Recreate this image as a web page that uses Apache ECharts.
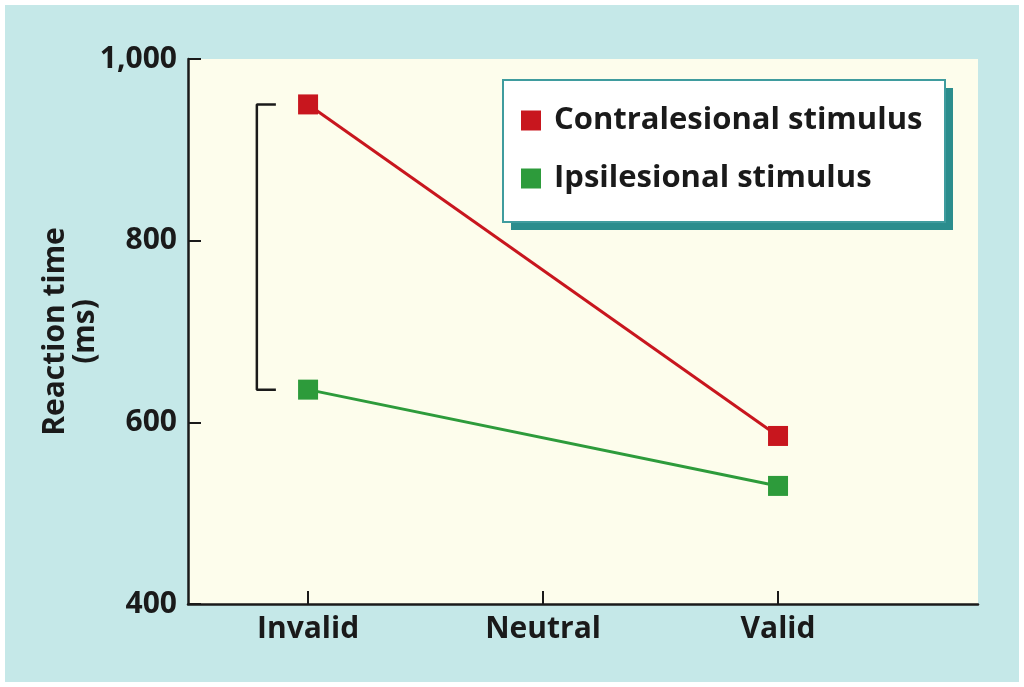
<!DOCTYPE html>
<html>
<head>
<meta charset="utf-8">
<script src="https://cdn.jsdelivr.net/npm/echarts@6/dist/echarts.min.js"></script>
<style>
  html, body { margin: 0; padding: 0; background: #ffffff; }
  #wrap { width: 1024px; height: 687px; box-sizing: border-box; padding: 5px; background: #ffffff; }
  #chart { width: 1014px; height: 677px; }
</style>
</head>
<body>
<div id="wrap"><div id="chart"></div></div>
<script>
const categories = ['Invalid', 'Neutral', 'Valid'];
const contraName = 'Contralesional stimulus';
const ipsiName = 'Ipsilesional stimulus';
const contraValues = [950, null, 585];
const ipsiValues = [636, null, 530];
const yTicks = [400, 600, 800, 1000];

const FONT = '"Open Sans", "Noto Sans", sans-serif';
const toPairs = vals => vals.map((v, i) => [i, v]).filter(p => p[1] != null);

// bracket between the two Invalid values
const bx = -0.218, bArm = -0.137;
const bracket = [[bArm, contraValues[0]], [bx, contraValues[0]], [bx, ipsiValues[0]], [bArm, ipsiValues[0]]];

const chart = echarts.init(document.getElementById('chart'));
chart.setOption({
  backgroundColor: '#c5e8e8',
  animation: false,
  grid: {
    left: 183, top: 54, right: 41, bottom: 78,
    show: true, backgroundColor: '#fdfdec', borderWidth: 0
  },
  graphic: [
    { type: 'rect', z: 3, shape: { x: 506, y: 83, width: 442, height: 142 }, style: { fill: '#2b8d8d' } },
    { type: 'rect', z: 4, shape: { x: 498, y: 75, width: 442, height: 142 }, style: { fill: '#ffffff', stroke: '#3f9c9e', lineWidth: 2 } }
  ],
  legend: {
    data: [contraName, ipsiName],
    orient: 'vertical',
    left: 498, top: 75,
    z: 6,
    padding: [25, 20, 20, 18],
    itemGap: 27,
    itemWidth: 20, itemHeight: 20,
    icon: 'rect',
    textStyle: { fontFamily: FONT, fontWeight: 'bold', fontSize: 31, color: '#1a1a1a', padding: [0, 0, 0, 8] }
  },
  xAxis: {
    type: 'value',
    min: -0.511, max: 2.851,
    axisLine: { onZero: false, lineStyle: { color: '#1a1a1a', width: 2.5 } },
    axisTick: { show: true, inside: true, length: 13, customValues: [0, 1, 2], lineStyle: { color: '#1a1a1a', width: 2 } },
    axisLabel: {
      customValues: [0, 1, 2],
      formatter: v => categories[Math.round(v)],
      fontFamily: FONT, fontWeight: 'bold', fontSize: 30, color: '#1a1a1a', margin: 10
    },
    splitLine: { show: false }
  },
  yAxis: {
    type: 'value',
    min: 400, max: 1000, interval: 200,
    name: 'Reaction time\n(ms)',
    nameLocation: 'middle',
    nameRotate: 90,
    nameGap: 88,
    nameMoveOverlap: false,
    nameTextStyle: { fontFamily: FONT, fontWeight: 'bold', fontSize: 30, color: '#1a1a1a', lineHeight: 30 },
    axisLine: { show: true, onZero: false, lineStyle: { color: '#1a1a1a', width: 2.5 } },
    axisTick: { show: true, inside: true, length: 13, lineStyle: { color: '#1a1a1a', width: 2 } },
    axisLabel: {
      formatter: v => yTicks.includes(v) ? v.toLocaleString('en-US') : '',
      fontFamily: FONT, fontWeight: 'bold', fontSize: 30, color: '#1a1a1a', margin: 11
    },
    splitLine: { show: false }
  },
  series: [
    {
      name: 'bracket',
      type: 'line',
      data: bracket,
      symbol: 'none',
      lineStyle: { color: '#1a1a1a', width: 2.5 },
      silent: true,
      z: 1
    },
    {
      name: contraName,
      type: 'line',
      data: toPairs(contraValues),
      symbol: 'rect', symbolSize: 20,
      itemStyle: { color: '#c8161e' },
      lineStyle: { color: '#c8161e', width: 3 },
      z: 3
    },
    {
      name: ipsiName,
      type: 'line',
      data: toPairs(ipsiValues),
      symbol: 'rect', symbolSize: 20,
      itemStyle: { color: '#2d9b3b' },
      lineStyle: { color: '#2d9b3b', width: 3 },
      z: 3
    }
  ]
});
</script>
</body>
</html>
